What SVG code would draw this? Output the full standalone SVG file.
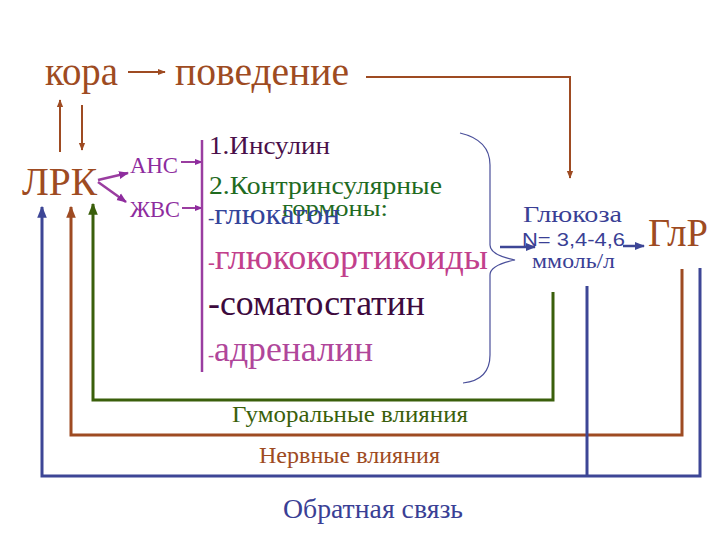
<svg xmlns="http://www.w3.org/2000/svg" width="720" height="540" viewBox="0 0 720 540">
<style>
text{font-family:"Liberation Serif","DejaVu Serif",serif}
.br{fill:#9E4B22}
.pu{fill:#8E2C9E}
.bl{fill:#3A3F95}
.ln{fill:none;stroke-width:3}
.sbr{stroke:#9E4B22}
.sgr{stroke:#3A5F0B}
.sbl{stroke:#3D4696}
.spu{stroke:#9A3DA0}
</style>
<defs>
<marker id="ab" viewBox="0 0 10 10" refX="9" refY="5" markerWidth="4" markerHeight="4" orient="auto" markerUnits="strokeWidth"><path d="M0,1 L10,5 L0,9 z" fill="#9E4B22"/></marker>
<marker id="ag" viewBox="0 0 10 10" refX="9" refY="5" markerWidth="4" markerHeight="4" orient="auto" markerUnits="strokeWidth"><path d="M0,1 L10,5 L0,9 z" fill="#3A5F0B"/></marker>
<marker id="abl" viewBox="0 0 10 10" refX="9" refY="5" markerWidth="4" markerHeight="4" orient="auto" markerUnits="strokeWidth"><path d="M0,1 L10,5 L0,9 z" fill="#3D4696"/></marker>
<marker id="ap" viewBox="0 0 10 10" refX="9" refY="5" markerWidth="4" markerHeight="4" orient="auto" markerUnits="strokeWidth"><path d="M0,1 L10,5 L0,9 z" fill="#8E2C9E"/></marker>
</defs>

<g id="connectors">
<line class="ln sbr" style="stroke-width:2" x1="128" y1="72" x2="165" y2="72" marker-end="url(#ab)"/>
<polyline class="ln sbr" style="stroke-width:2" points="366,77 570,77 570,178" marker-end="url(#ab)"/>
<line class="ln sbr" style="stroke-width:2" x1="60" y1="152" x2="60" y2="100" marker-end="url(#ab)"/>
<line class="ln sbr" style="stroke-width:2" x1="82" y1="105" x2="82" y2="150" marker-end="url(#ab)"/>
<line class="ln spu" style="stroke-width:2.5" x1="98" y1="180" x2="128" y2="173" marker-end="url(#ap)"/>
<line class="ln spu" style="stroke-width:2.5" x1="98" y1="182" x2="126" y2="202" marker-end="url(#ap)"/>
<line class="ln spu" style="stroke-width:2" x1="181" y1="162" x2="202" y2="162" marker-end="url(#ap)"/>
<line class="ln spu" style="stroke-width:2" x1="182" y1="208" x2="202" y2="208" marker-end="url(#ap)"/>
<line class="ln spu" style="stroke-width:2.5" x1="202" y1="140" x2="202" y2="372"/>
<path d="M460,133 Q490,140 490,165 L490,245 Q490,255 515,260 Q490,265 490,275 L490,355 Q490,380 463,383" fill="none" stroke="#4A4F9A" stroke-width="1.2"/>
<line class="ln sbl" style="stroke-width:2.5" x1="500" y1="247" x2="535" y2="247" marker-end="url(#abl)"/>
<line class="ln sbl" style="stroke-width:2.5" x1="623" y1="246" x2="644" y2="246" marker-end="url(#abl)"/>
<polyline class="ln sgr" points="553,292 553,400 93,400 93,204" marker-end="url(#ag)"/>
<polyline class="ln sbr" points="682,269 682,435 71,435 71,207" marker-end="url(#ab)"/>
<polyline class="ln sbl" points="700,268 700,476 42,476 42,207" marker-end="url(#abl)"/>
<line class="ln sbl" x1="587" y1="286" x2="587" y2="476"/>
</g>

<g id="kora"><text class="br" x="45" y="85" font-size="41" textLength="73" lengthAdjust="spacingAndGlyphs">кора</text></g>
<g id="povedenie"><text class="br" x="175" y="85" font-size="41" textLength="174" lengthAdjust="spacingAndGlyphs">поведение</text></g>
<g id="lrk"><text class="br" x="22" y="195" font-size="39" textLength="75" lengthAdjust="spacingAndGlyphs">ЛРК</text></g>
<g id="ans"><text class="pu" x="130" y="173" font-size="23" textLength="48" lengthAdjust="spacingAndGlyphs">АНС</text></g>
<g id="zhvs"><text class="pu" x="130" y="217" font-size="23" textLength="50" lengthAdjust="spacingAndGlyphs">ЖВС</text></g>

<g id="hormones">
<text x="209" y="154" font-size="25" fill="#4A0F4A" textLength="121" lengthAdjust="spacingAndGlyphs">1.Инсулин</text>
<text x="209" y="194" font-size="25" fill="#1F6B1F" textLength="233" lengthAdjust="spacingAndGlyphs">2.Контринсулярные</text>
<text x="282" y="216" font-size="23" fill="#1F6B1F" textLength="106" lengthAdjust="spacingAndGlyphs">гормоны:</text>
<text x="208" y="224" font-size="30" fill="#33449A" textLength="132" lengthAdjust="spacingAndGlyphs"><tspan font-size="18">-</tspan>глюкагон</text>
<text x="208" y="269" font-size="35" fill="#C2408C" textLength="280" lengthAdjust="spacingAndGlyphs"><tspan font-size="20">-</tspan>глюкокортикоиды</text>
<text x="208" y="315" font-size="35" fill="#3D0A3D" textLength="217" lengthAdjust="spacingAndGlyphs">-соматостатин</text>
<text x="208" y="361" font-size="35" fill="#B0469A" textLength="165" lengthAdjust="spacingAndGlyphs"><tspan font-size="18">-</tspan>адреналин</text>
</g>

<g id="glucose">
<text class="bl" x="523" y="222" font-size="24" textLength="99" lengthAdjust="spacingAndGlyphs">Глюкоза</text>
<text class="bl" x="522" y="246" font-size="19" style="font-family:'Liberation Sans',sans-serif" textLength="103" lengthAdjust="spacingAndGlyphs">N= 3,4-4,6</text>
<text class="bl" x="532" y="268" font-size="20" textLength="83" lengthAdjust="spacingAndGlyphs">ммоль/л</text>
</g>
<g id="glr"><text class="br" x="648" y="246" font-size="40" textLength="60" lengthAdjust="spacingAndGlyphs">ГлР</text></g>

<g id="labels">
<text x="232" y="422" font-size="23" fill="#3A5F0B" textLength="236" lengthAdjust="spacingAndGlyphs">Гуморальные влияния</text>
<text class="br" x="259" y="463" font-size="23" textLength="181" lengthAdjust="spacingAndGlyphs">Нервные влияния</text>
<text class="bl" x="283" y="518" font-size="27" textLength="180" lengthAdjust="spacingAndGlyphs">Обратная связь</text>
</g>
</svg>
